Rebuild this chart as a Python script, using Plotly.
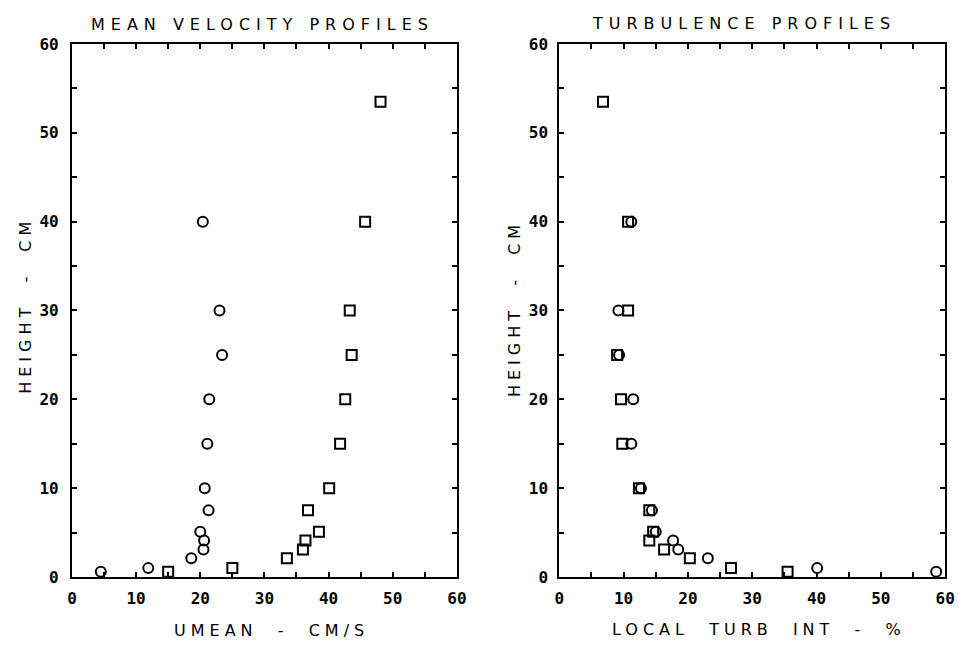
import plotly.graph_objects as go

# ---- data ----
circ_height = [0.6, 1.0, 2.1, 3.1, 4.1, 5.1, 7.5, 10, 15, 20, 25, 30, 40]
circ_umean = [4.5, 11.9, 18.6, 20.5, 20.6, 20.0, 21.3, 20.7, 21.1, 21.4, 23.4, 23.0, 20.4]
circ_turb = [58.6, 40.1, 23.1, 18.5, 17.7, 15.0, 14.4, 12.7, 11.2, 11.5, 9.3, 9.2, 11.2]

sq_height = [0.6, 1.0, 2.1, 3.1, 4.1, 5.1, 7.5, 10, 15, 20, 25, 30, 40, 53.5]
sq_umean = [15.0, 25.0, 33.5, 36.0, 36.4, 38.5, 36.8, 40.1, 41.8, 42.6, 43.6, 43.3, 45.7, 48.1]
sq_turb = [35.5, 26.7, 20.3, 16.3, 14.0, 14.6, 14.0, 12.4, 9.8, 9.6, 9.0, 10.7, 10.7, 6.8]

tick_vals = [0, 5, 10, 15, 20, 25, 30, 35, 40, 45, 50, 55, 60]
tick_text = ["0", "", "10", "", "20", "", "30", "", "40", "", "50", "", "60"]

titles = ["MEAN VELOCITY PROFILES", "TURBULENCE PROFILES"]
x_titles = ["UMEAN  -  CM/S", "LOCAL  TURB  INT  -  %"]
y_title = "HEIGHT  -  CM"

W, H = 966, 654


def px(x):
    return x / W


def py(y):
    return 1 - y / H


fig = go.Figure()

circ_marker = dict(symbol="circle-open", size=10, color="black", line=dict(width=2, color="black"))
sq_marker = dict(symbol="square-open", size=10, color="black", line=dict(width=2, color="black"))

fig.add_trace(go.Scatter(x=circ_umean, y=circ_height, mode="markers", marker=circ_marker,
                         xaxis="x", yaxis="y", cliponaxis=False, showlegend=False))
fig.add_trace(go.Scatter(x=sq_umean, y=sq_height, mode="markers", marker=sq_marker,
                         xaxis="x", yaxis="y", cliponaxis=False, showlegend=False))
fig.add_trace(go.Scatter(x=circ_turb, y=circ_height, mode="markers", marker=circ_marker,
                         xaxis="x2", yaxis="y2", cliponaxis=False, showlegend=False))
fig.add_trace(go.Scatter(x=sq_turb, y=sq_height, mode="markers", marker=sq_marker,
                         xaxis="x2", yaxis="y2", cliponaxis=False, showlegend=False))

tick_font = dict(family="DejaVu Sans Mono", size=16, color="black", weight="bold")
common = dict(range=[0, 60], tickmode="array", tickvals=tick_vals, ticktext=tick_text,
              ticks="inside", ticklen=5, tickwidth=2, tickcolor="black",
              showline=True, linewidth=2, linecolor="black", mirror="ticks",
              showgrid=False, zeroline=False, tickfont=tick_font)

y_dom = [py(585), py(36)]
fig.update_layout(
    width=W, height=H,
    margin=dict(l=0, r=0, t=0, b=0),
    paper_bgcolor="white", plot_bgcolor="white",
    xaxis=dict(domain=[px(68), px(459)], anchor="y", ticklabelstandoff=6, **common),
    yaxis=dict(domain=y_dom, anchor="x", ticklabelstandoff=8, **common),
    xaxis2=dict(domain=[px(563), px(955)], anchor="y2", ticklabelstandoff=6, **common),
    yaxis2=dict(domain=y_dom, anchor="x2", ticklabelstandoff=6, **common),
)

label_font = dict(family="DejaVu Sans", size=16, color="black")


def spaced(t, s):
    return '<span style="letter-spacing:%dpx">%s</span>' % (s, t)


annots = [
    (titles[0], 262, 16, 0, 6),
    (titles[1], 751, 15, 0, 6),
    (x_titles[0], 271, 640, 0, 5),
    (x_titles[1], 766, 639, 0, 5),
    (y_title, 20, 305, -90, 5),
    (y_title, 517, 308, -90, 5),
]
for text, x, y, ang, s in annots:
    fig.add_annotation(text=spaced(text, s), x=px(x), y=py(y), xref="paper", yref="paper",
                       showarrow=False, textangle=ang, font=label_font,
                       xanchor="center", yanchor="middle")

fig.write_html("out.html")
